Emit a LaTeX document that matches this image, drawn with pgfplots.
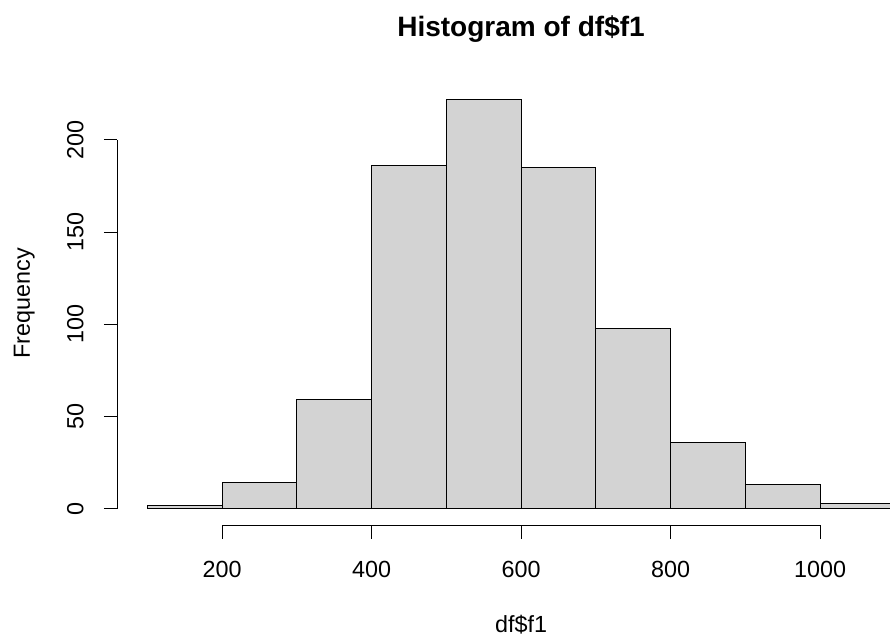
\documentclass[border=0pt]{standalone}
\usepackage{pgfplots}
\pgfplotsset{compat=1.18}
\usepackage{fontspec}
\setmainfont{Liberation Sans}
\definecolor{barfill}{HTML}{D3D3D3}
\begin{document}
\fontsize{17.5}{21}\selectfont
\begin{tikzpicture}
\useasboundingbox (-88pt,-82.725pt) rectangle (579pt,393.525pt);
\begin{axis}[
  at={(0,0)}, anchor=south west,
  scale only axis, width=579pt, height=331.275pt,
  xmin=60, xmax=1093.6, ymin=-8.88, ymax=230.88,
  clip=false,
  axis lines*=left,
  axis line style={draw=none},
  tick align=outside,
  major tick length=10.1pt,
  tick style={black, line width=0.75pt},
  xtick={200,400,600,800,1000},
  ytick={0,50,100,150,200},
  /pgf/number format/assume math mode=true,
  /pgf/number format/1000 sep={},
  ticklabel style={font=\fontsize{17.5}{21}\selectfont},
  xticklabel style={anchor=base, inner sep=0pt, yshift=-29.4pt},
  yticklabel style={anchor=base, inner sep=0pt, xshift=-15.4pt, rotate=90},
]
\addplot[ybar interval, fill=barfill, draw=black, line width=0.75pt] coordinates {
  (100,2) (200,14) (300,59) (400,186) (500,222) (600,185) (700,98) (800,36) (900,13) (1000,3) (1100,3)
};
\draw[line width=0.75pt] (axis cs:200,-8.88) -- (axis cs:1000,-8.88);
\draw[line width=0.75pt] (axis cs:60,0) -- (axis cs:60,200);
\node[anchor=base, font=\bfseries\fontsize{21}{25}\selectfont] at (axis cs:600,256.3) {Histogram of df\$f1};
\node[anchor=base] at (axis cs:600,-67) {df\$f1};
\node[anchor=base, rotate=90] at (axis cs:-57,111.5) {Frequency};
\end{axis}
\end{tikzpicture}
\end{document}
